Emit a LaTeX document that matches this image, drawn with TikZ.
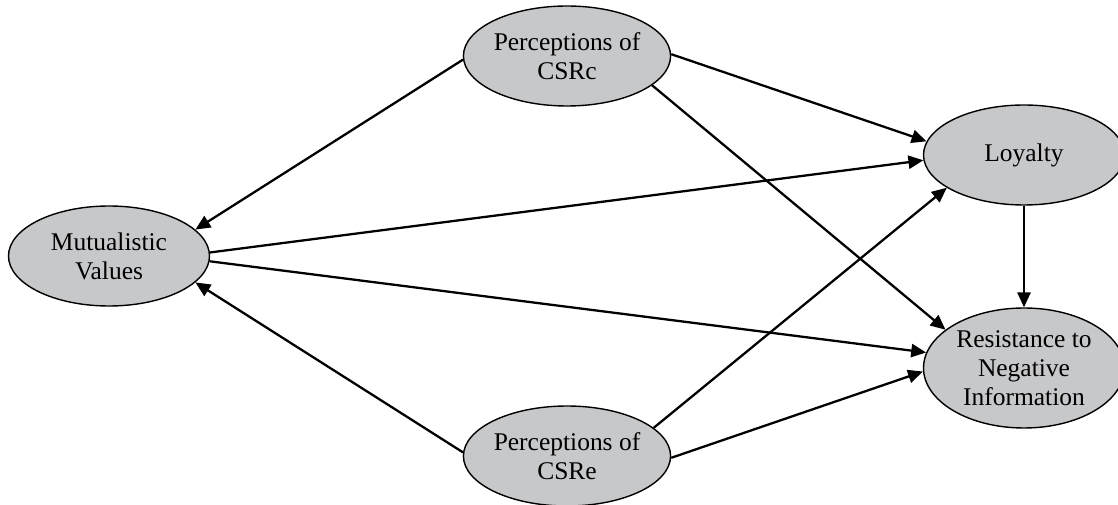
\documentclass[tikz,border=0pt]{standalone}
\usepackage{fontspec}
\setmainfont{Liberation Serif}
\usepackage{tikz}
\usetikzlibrary{arrows.meta}
\usetikzlibrary{shapes.geometric}
\definecolor{nodegray}{RGB}{199,200,202}
\tikzset{construct/.style = {ellipse, draw, fill=nodegray, line width=0.8pt,
                             inner sep=0pt, minimum width=4.02cm, minimum height=2cm,
                             align=center, font=\fontsize{14.5pt}{16.4pt}\selectfont},
         effect/.style = {line width=1.3pt, -{Triangle[length=8.5pt,width=7.5pt]}}}

\begin{document}
\begin{tikzpicture}
    \useasboundingbox (0, 0) rectangle (22.36, 10.1);

    \node [construct] (csrc) at (11.34, 8.98) {Perceptions of\\CSRc};
    \node [construct] (mutual) at (2.18, 4.98) {Mutualistic\\Values};
    \node [construct] (csre) at (11.34, 0.98) {Perceptions of\\CSRe};
    \node [construct] (loyalty) at (20.48, 7.0) {Loyalty};
    \node [construct, minimum height=2.4cm] (resist) at (20.48, 2.74)
      {Resistance to\\Negative\\Information};

    \foreach \a/\b in {csrc.182/mutual.17, csrc.1/loyalty.172, csrc.-19/resist.154,
                       mutual.2/loyalty.183, mutual.-3/resist.171,
                       csre.178/mutual.-17, csre.18/loyalty.203, csre.-1/resist.182} {
      \draw [effect] (\a) -- (\b);
    }
    \draw [effect] (loyalty) -- (resist);
  \end{tikzpicture}
\end{document}
